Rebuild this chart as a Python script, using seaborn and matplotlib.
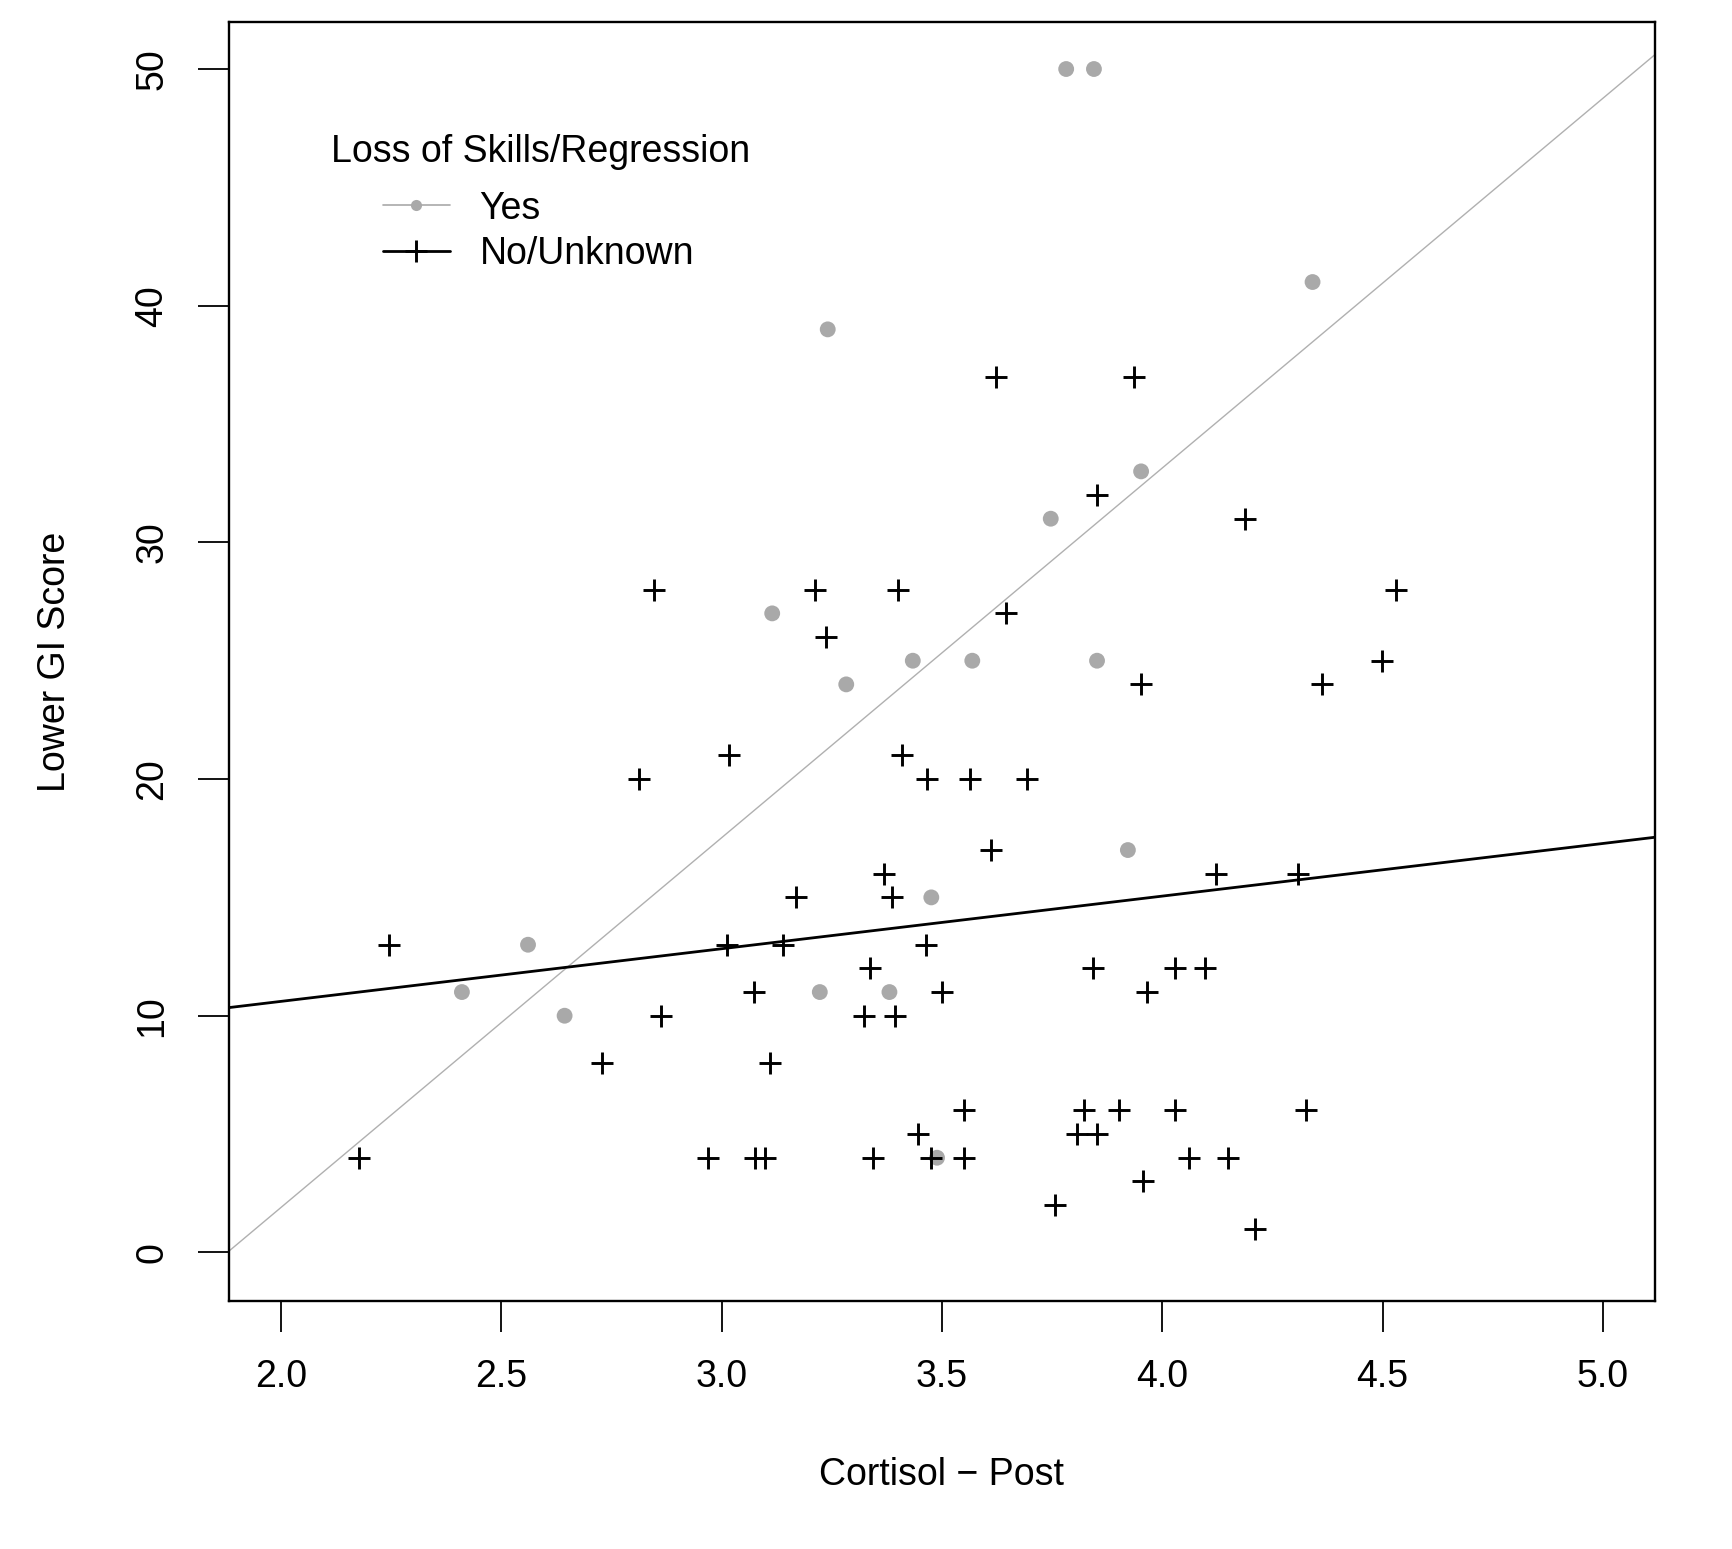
import matplotlib
matplotlib.use("Agg")
import matplotlib.pyplot as plt
import seaborn as sns
import numpy as np
import pandas as pd
from matplotlib.lines import Line2D

sns.set_style("white")
plt.rcParams['font.family'] = ['Liberation Sans', 'DejaVu Sans']
plt.rcParams['text.color'] = 'black'
plt.rcParams['axes.labelcolor'] = 'black'
plt.rcParams['xtick.color'] = 'black'
plt.rcParams['ytick.color'] = 'black'

# Group "Yes" (loss of skills / regression)
yes_x = [3.782, 3.845, 4.341, 3.241, 3.952, 3.747, 3.115, 3.434, 3.569, 3.852,
         3.283, 3.922, 3.476, 2.561, 2.411, 3.223, 3.381, 2.644, 3.489]
yes_y = [50, 50, 41, 39, 33, 31, 27, 25, 25, 25,
         24, 17, 15, 13, 11, 11, 11, 10, 4]

# Group "No/Unknown"
no_x = [4.531, 4.188, 3.935, 3.622, 3.852, 2.847, 3.213, 3.401, 3.236, 3.645,
        3.952, 4.363, 4.499, 2.812, 3.018, 3.409, 3.466, 3.564, 3.694, 3.612,
        3.368, 3.170, 3.386, 4.123, 4.308, 2.246, 3.013, 3.140, 3.464, 3.336,
        3.842, 4.028, 4.098, 3.073, 3.501, 3.965, 2.862, 3.323, 3.393, 2.729,
        3.110, 3.551, 3.822, 3.902, 4.028, 4.326, 3.446, 3.807, 3.852, 2.178,
        2.970, 3.075, 3.098, 3.343, 3.476, 3.551, 4.060, 4.150, 3.957, 3.757,
        4.211]
no_y = [28, 31, 37, 37, 32, 28, 28, 28, 26, 27,
        24, 24, 25, 20, 21, 21, 20, 20, 20, 17,
        16, 15, 15, 16, 16, 13, 13, 13, 13, 12,
        12, 12, 12, 11, 11, 11, 10, 10, 10, 8,
        8, 6, 6, 6, 6, 6, 5, 5, 5, 4,
        4, 4, 4, 4, 4, 4, 4, 4, 3, 2,
        1]

x_ticks = [2.0, 2.5, 3.0, 3.5, 4.0, 4.5, 5.0]
y_ticks = [0, 10, 20, 30, 40, 50]
legend_title = "Loss of Skills/Regression"
labels = ["Yes", "No/Unknown"]

GREY = "#a9a9a9"
FS = 27

fig = plt.figure(figsize=(17.33, 15.49), dpi=100)
ax = fig.add_axes([0.132, 0.160, 0.823, 0.826])
xlim = (1.882, 5.118)
ylim = (-2.06, 52.0)
ax.set_xlim(*xlim)
ax.set_ylim(*ylim)

sns.scatterplot(x=yes_x, y=yes_y, ax=ax, color=GREY, s=130, edgecolor="none", zorder=3)
sns.scatterplot(x=no_x, y=no_y, ax=ax, color="black", marker="+", s=260, linewidth=2.1, zorder=4)

sns.regplot(x=yes_x, y=yes_y, ax=ax, scatter=False, ci=None, truncate=False,
            line_kws=dict(color="#b0b0b0", linewidth=1.0, zorder=2))
sns.regplot(x=no_x, y=no_y, ax=ax, scatter=False, ci=None, truncate=False,
            line_kws=dict(color="black", linewidth=2.0, zorder=2))
ax.set_xlim(*xlim)
ax.set_ylim(*ylim)

ax.set_xticks(x_ticks)
ax.set_xticklabels([f"{v:.1f}" for v in x_ticks])
ax.set_yticks(y_ticks)
ax.set_yticklabels([str(v) for v in y_ticks], rotation=90, va="center")
ax.tick_params(axis="both", direction="out", length=22, width=1.3, color="black",
               labelsize=FS, pad=20, bottom=True, left=True, labelcolor="black")

for sp in ax.spines.values():
    sp.set_linewidth(1.7)
    sp.set_color("black")

ax.set_xlabel("Cortisol \u2212 Post", fontsize=FS, color="black")
ax.set_ylabel("Lower GI Score", fontsize=FS, color="black")
ax.xaxis.set_label_coords(0.5, -0.136)
ax.xaxis.label.set_va("center")
ax.yaxis.set_label_coords(-0.122, 0.5)
ax.yaxis.label.set_va("center")

ax.text(0.072, 0.898, legend_title, transform=ax.transAxes, fontsize=FS,
        ha="left", va="center", color="black")
handles = [
    Line2D([0], [0], color=GREY, linewidth=1.2, marker="o", markersize=8,
           markerfacecolor=GREY, markeredgecolor="none"),
    Line2D([0], [0], color="black", linewidth=2.0, marker="+", markersize=16,
           markeredgewidth=2.1),
]
leg = ax.legend(handles, labels, loc="upper left", bbox_to_anchor=(0.108, 0.868),
                frameon=False, fontsize=FS, borderpad=0, borderaxespad=0,
                handlelength=1.78, handletextpad=0.8, labelspacing=0.26)
for t in leg.get_texts():
    t.set_color("black")

fig.savefig("out.png", dpi=100, facecolor="white")
